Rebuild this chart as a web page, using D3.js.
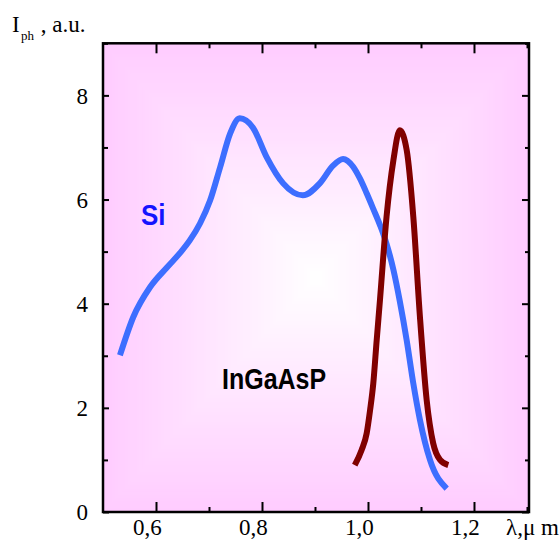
<!DOCTYPE html>
<html><head><meta charset="utf-8">
<script src="https://cdn.jsdelivr.net/npm/d3@7"></script>
<style>body{margin:0;background:#fff}svg{display:block}
.serif{font-family:"Liberation Serif","Times New Roman",Tinos,serif}
.sans{font-family:"Liberation Sans",Arial,Helvetica,sans-serif}
</style>
</head><body>
<svg id="c" width="559" height="540"></svg>
<script>
// ---- data ----
const siX = [0.532,0.557,0.589,0.621,0.645,0.664,0.683,0.702,0.721,0.740,0.758,0.783,0.809,0.840,0.877,0.909,0.934,0.953,0.972,0.985,0.9975,1.010,1.023,1.035,1.048,1.060,1.073,1.0855,1.098,1.117,1.1485];
const siY = [3.01,3.74,4.32,4.70,4.97,5.22,5.54,5.98,6.62,7.27,7.56,7.38,6.81,6.31,6.08,6.31,6.65,6.78,6.63,6.40,6.12,5.82,5.50,5.15,4.65,4.05,3.30,2.47,1.77,1.00,0.45];
const inX = [0.975,0.988,0.9975,1.004,1.010,1.0164,1.0226,1.035,1.048,1.060,1.073,1.0855,1.098,1.1107,1.123,1.136,1.1515];
const inY = [0.90,1.19,1.51,1.96,2.47,3.30,4.07,5.67,6.76,7.33,6.95,5.67,3.75,2.15,1.32,1.00,0.90];
const xMajor = [0.6,0.8,1.0,1.2];
const xMinor = [0.7,0.9,1.1,1.3];
const xLabels = ["0,6","0,8","1,0","1,2"];
const yMajor = [0,2,4,6,8];
const yMinor = [1,3,5,7,9];
const yLabels = ["0","2","4","6","8"];

// ---- scales ----
const x = d3.scaleLinear().domain([0.5,1.3038]).range([103,529]);
const y = d3.scaleLinear().domain([0,9]).range([512,43.3]);
const svg = d3.select("#c");
const L = x(0.5), R = x(1.3038), T = y(9), B = y(0);
const W = R - L, H = B - T;

// background rectangular gradient
const N = 70;
const col = d3.interpolateRgb("#ffccff", "#ffffff");
const bg = svg.append("g");
for (let i = 0; i < N; i++) {
  const t = i / N;
  bg.append("rect")
    .attr("x", L + t * W / 2).attr("y", T + t * H / 2)
    .attr("width", W * (1 - t)).attr("height", H * (1 - t))
    .attr("fill", col(t));
}

// curves
const line = d3.line().x(d => x(d[0])).y(d => y(d[1])).curve(d3.curveMonotoneX);
svg.append("path").datum(d3.zip(siX, siY)).attr("d", line)
  .attr("fill","none").attr("stroke","#3d6eff").attr("stroke-width",6);
svg.append("path").datum(d3.zip(inX, inY)).attr("d", line)
  .attr("fill","none").attr("stroke","#800000").attr("stroke-width",6);

// axes (ticks inward)
function ax(gen, tr) {
  const g = svg.append("g").attr("transform", tr).call(gen);
  g.select(".domain").remove();
  g.attr("font-family", null);
  g.selectAll(".tick line").attr("stroke","#000").attr("stroke-width",2);
  return g;
}
// bottom
const gb = ax(d3.axisBottom(x).tickValues(xMajor).tickSize(-10).tickPadding(0).tickFormat((d,i)=>xLabels[i]), `translate(0,${B})`);
gb.selectAll(".tick text").attr("class","serif").attr("font-size",23).attr("fill","#000")
  .attr("dx",-9).attr("y",23).attr("dy",0);
ax(d3.axisBottom(x).tickValues(xMinor).tickSize(-5).tickFormat(""), `translate(0,${B})`);
// top
ax(d3.axisTop(x).tickValues(xMajor).tickSize(-10).tickFormat(""), `translate(0,${T})`);
ax(d3.axisTop(x).tickValues(xMinor).tickSize(-5).tickFormat(""), `translate(0,${T})`);
// left
const gl = ax(d3.axisLeft(y).tickValues(yMajor).tickSize(-6).tickPadding(0).tickFormat((d,i)=>yLabels[i]), `translate(${L},0)`);
gl.selectAll(".tick text").attr("class","serif").attr("font-size",23).attr("fill","#000")
  .attr("x",-15).attr("dy","0.34em");
ax(d3.axisLeft(y).tickValues(yMinor).tickSize(-5).tickFormat(""), `translate(${L},0)`);
// right
ax(d3.axisRight(y).tickValues(yMajor).tickSize(-7).tickFormat(""), `translate(${R},0)`);
ax(d3.axisRight(y).tickValues(yMinor).tickSize(-4).tickFormat(""), `translate(${R},0)`);

// border
svg.append("rect").attr("x",L).attr("y",T).attr("width",W).attr("height",H)
  .attr("fill","none").attr("stroke","#000").attr("stroke-width",2.5);

// axis titles
const yt = svg.append("text").attr("class","serif").attr("fill","#000");
yt.append("tspan").attr("x",12).attr("y",32).attr("font-size",23).text("I");
yt.append("tspan").attr("x",21).attr("y",40).attr("font-size",13).text("ph");
yt.append("tspan").attr("x",35).attr("y",32).attr("font-size",23).text(" , a.u.");
svg.append("text").attr("class","serif").attr("x",506).attr("y",535).attr("font-size",23)
  .attr("fill","#000").text("λ,μ m");

// labels
svg.append("text").attr("class","sans").attr("transform","translate(141,225) scale(1,1.15)")
  .attr("font-weight","bold").attr("font-size",26).attr("fill","#1414ff").text("Si");
svg.append("text").attr("class","sans").attr("transform","translate(222,389) scale(1,1.15)")
  .attr("font-weight","bold").attr("font-size",25).attr("fill","#000").text("InGaAsP");
</script>
</body></html>
